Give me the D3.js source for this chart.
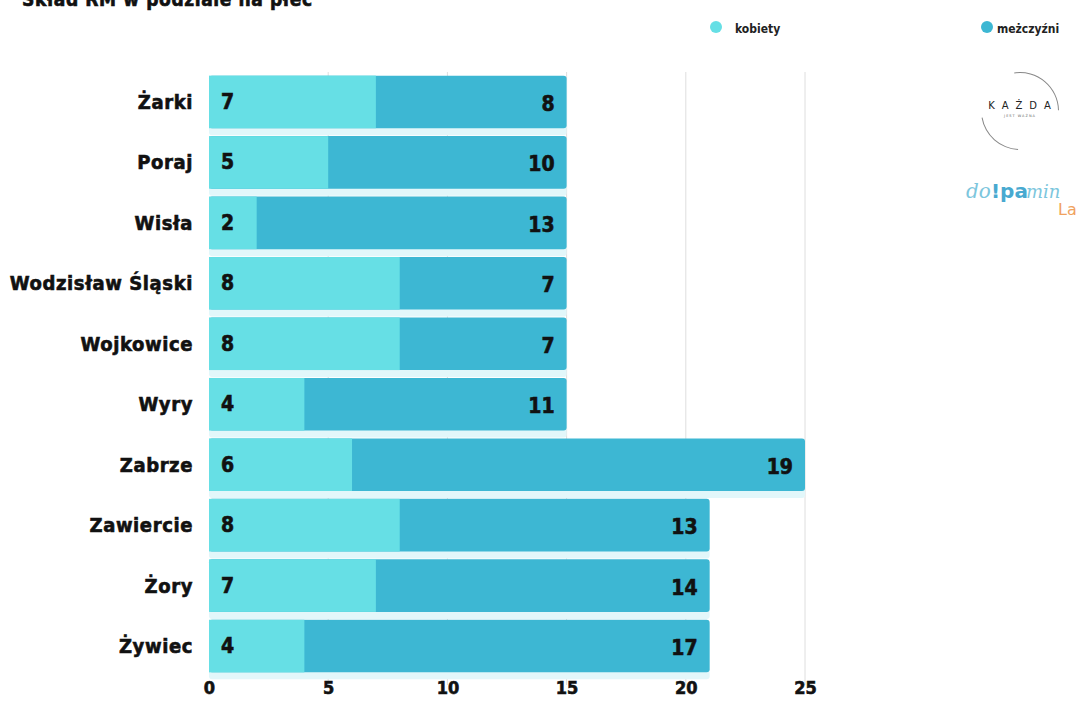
<!DOCTYPE html>
<html>
<head>
<meta charset="utf-8">
<script src="https://cdn.jsdelivr.net/npm/d3@7"></script>
<style>
  html, body { margin: 0; padding: 0; background: #fff; }
  svg { display: block; }
  .cond { font-family: "DejaVu Sans Condensed", "Liberation Sans Narrow", "Open Sans", sans-serif; font-weight: bold; }
  .heavy { stroke: #111; stroke-width: 0.6; paint-order: stroke; }
</style>
</head>
<body>
<svg id="chart" width="1078" height="701"></svg>
<script>
// Composition of youth councils by gender
const cities = ["Żarki", "Poraj", "Wisła", "Wodzisław Śląski", "Wojkowice", "Wyry", "Zabrze", "Zawiercie", "Żory", "Żywiec"];
const women  = [7, 5, 2, 8, 8, 4, 6, 8, 7, 4];
const men    = [8, 10, 13, 7, 7, 11, 19, 13, 14, 17];
const xTicks = [0, 5, 10, 15, 20, 25];
const seriesNames = ["kobiety", "meżczyźni"];
const colors = ["#66dfe5", "#3db7d3"];

const svg = d3.select("#chart");
const W = 1078, H = 701;
const margin = { left: 209, right: 273, top: 72, bottom: 25 };

const x = d3.scaleLinear().domain([0, 25]).range([margin.left, W - margin.right]);
const y = d3.scaleBand().domain(cities).range([margin.top, H - margin.bottom]).paddingInner(0.13).paddingOuter(0.06);

// title (runs off the top edge)
svg.append("text").attr("class", "cond heavy")
  .attr("x", 22).attr("y", 6)
  .attr("font-size", 19).attr("letter-spacing", 0.6).attr("fill", "#111")
  .text("Skład RM w podziale na płeć");

// vertical grid
svg.append("g").selectAll("line").data(xTicks.slice(1)).join("line")
  .attr("x1", d => x(d)).attr("x2", d => x(d))
  .attr("y1", margin.top).attr("y2", H - 16)
  .attr("stroke", "#dedede").attr("stroke-width", 1);

const data = cities.map((c, i) => ({ city: c, w: women[i], m: men[i] }));

const rows = svg.append("g").selectAll("g").data(data).join("g");

// soft glow under each bar
rows.append("rect")
  .attr("x", x(0)).attr("y", d => y(d.city) + 3)
  .attr("width", d => x(d.w + d.m) - x(0))
  .attr("height", y.bandwidth() + 4)
  .attr("rx", 3)
  .attr("fill", "#e2f7fa");

// men segment spans the full total; women drawn over it
rows.append("rect")
  .attr("x", x(0)).attr("y", d => y(d.city))
  .attr("width", d => x(d.w + d.m) - x(0))
  .attr("height", y.bandwidth())
  .attr("rx", 3)
  .attr("fill", colors[1]);

rows.append("rect")
  .attr("x", x(0)).attr("y", d => y(d.city))
  .attr("width", d => x(d.w) - x(0))
  .attr("height", y.bandwidth())
  .attr("fill", colors[0]);

// value labels
rows.append("text").attr("class", "cond heavy")
  .attr("x", x(0) + 12)
  .attr("y", d => y(d.city) + y.bandwidth() / 2 + 1)
  .attr("dominant-baseline", "middle")
  .attr("font-size", 21).attr("fill", "#111")
  .text(d => d.w);

rows.append("text").attr("class", "cond heavy")
  .attr("x", d => x(d.w + d.m) - 12)
  .attr("y", d => y(d.city) + y.bandwidth() / 2 + 3)
  .attr("text-anchor", "end")
  .attr("dominant-baseline", "middle")
  .attr("font-size", 21).attr("fill", "#111")
  .text(d => d.m);

// category axis
const yAxis = svg.append("g")
  .attr("transform", `translate(${x(0) - 16},0)`)
  .call(d3.axisLeft(y).tickSize(0).tickPadding(0));
yAxis.select(".domain").remove();
yAxis.selectAll("text").attr("class", "cond heavy")
  .attr("font-size", 20).attr("letter-spacing", 0.6).attr("fill", "#111")
  .attr("dy", "0.35em");

// value axis
const xAxis = svg.append("g")
  .attr("transform", `translate(0,${H - 18})`)
  .call(d3.axisBottom(x).tickValues(xTicks).tickSize(0).tickPadding(0));
xAxis.select(".domain").remove();
xAxis.selectAll("text").attr("class", "cond heavy")
  .attr("font-size", 18).attr("fill", "#111")
  .attr("dy", "0.6em");

// legend
const legendX = [716, 987];
const legend = svg.append("g").selectAll("g").data(seriesNames).join("g")
  .attr("transform", (d, i) => `translate(${legendX[i]},28)`);
legend.append("circle").attr("r", 6).attr("cy", -1).attr("fill", (d, i) => colors[i]);
legend.append("text").attr("class", "cond")
  .attr("x", (d, i) => i === 0 ? 19 : 10)
  .attr("y", 1).attr("dominant-baseline", "middle")
  .attr("font-size", 12).attr("fill", "#222")
  .text(d => d);

// "KAŻDA jest ważna" logo
const logo1 = svg.append("g").attr("transform", "translate(1020,111)");
logo1.append("path")
  .attr("d", d3.arc()({ innerRadius: 38, outerRadius: 39, startAngle: -0.15, endAngle: 1.55 }))
  .attr("fill", "#888");
logo1.append("path")
  .attr("d", d3.arc()({ innerRadius: 38, outerRadius: 39, startAngle: Math.PI + 0.05, endAngle: Math.PI + 1.4 }))
  .attr("fill", "#888");
logo1.append("text")
  .attr("x", 3).attr("y", -2).attr("text-anchor", "middle")
  .attr("font-family", "DejaVu Sans, sans-serif").attr("font-size", 10)
  .attr("letter-spacing", 7).attr("fill", "#222")
  .text("KAŻDA");
logo1.append("text")
  .attr("x", 0).attr("y", 6).attr("text-anchor", "middle")
  .attr("font-family", "DejaVu Sans, sans-serif").attr("font-size", 3.5)
  .attr("letter-spacing", 1).attr("fill", "#666")
  .text("JEST WAŻNA");

// "do!pamina Lab" logo
const logo2 = svg.append("g").attr("transform", "translate(966,198)");
logo2.append("text")
  .attr("x", 0).attr("y", 0)
  .attr("font-family", "DejaVu Serif, serif").attr("font-style", "italic")
  .attr("font-size", 20).attr("fill", "#7cc6dd")
  .text("do");
logo2.append("text")
  .attr("x", 25).attr("y", 0)
  .attr("font-family", "DejaVu Sans, sans-serif").attr("font-weight", "bold")
  .attr("font-size", 20).attr("fill", "#48a9d0")
  .text("!pa");
logo2.append("text")
  .attr("x", 60).attr("y", 0)
  .attr("font-family", "DejaVu Serif, serif").attr("font-style", "italic")
  .attr("font-size", 18).attr("fill", "#7cc6dd")
  .text("min");
logo2.append("text")
  .attr("x", 92).attr("y", 17)
  .attr("font-family", "DejaVu Sans, sans-serif")
  .attr("font-size", 16).attr("fill", "#f0a25e")
  .text("La");
</script>
</body>
</html>
